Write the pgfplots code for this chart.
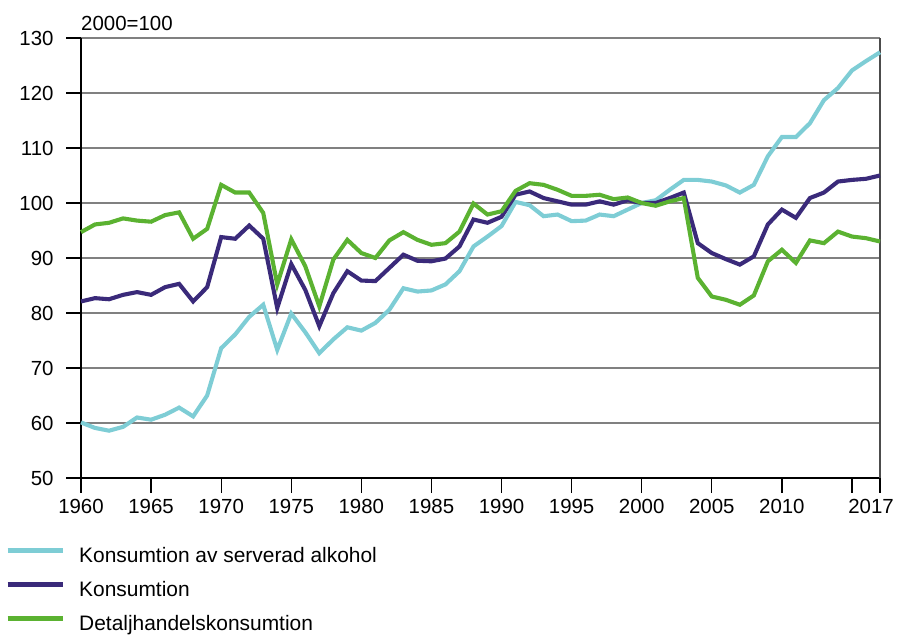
\documentclass[border=0pt]{standalone}
\usepackage{pgfplots}
\pgfplotsset{compat=1.18}
\usepackage{pgfplotstable}
\usepackage{fontspec}
\setmainfont{Liberation Sans}
\definecolor{cserv}{HTML}{7ECDD5}
\definecolor{ckons}{HTML}{3A2A7A}
\definecolor{cdet}{HTML}{5BB231}
\pgfplotstableread{
year serv kons det
1960 60.1 82.1 94.7
1961 59.1 82.7 96.1
1962 58.6 82.5 96.4
1963 59.3 83.3 97.2
1964 61.0 83.8 96.8
1965 60.6 83.3 96.6
1966 61.5 84.7 97.8
1967 62.8 85.3 98.3
1968 61.2 82.1 93.5
1969 65.0 84.7 95.3
1970 73.6 93.8 103.3
1971 76.1 93.5 101.9
1972 79.3 95.9 101.9
1973 81.5 93.5 98.2
1974 73.3 80.9 85.2
1975 79.9 88.9 93.4
1976 76.5 84.2 88.5
1977 72.7 77.6 81.2
1978 75.2 83.6 89.7
1979 77.4 87.6 93.3
1980 76.8 85.9 90.9
1981 78.2 85.8 90.0
1982 80.6 88.2 93.2
1983 84.5 90.6 94.7
1984 83.9 89.5 93.3
1985 84.1 89.4 92.4
1986 85.2 89.9 92.7
1987 87.6 92.1 94.8
1988 92.1 97.0 99.9
1989 93.9 96.4 97.9
1990 95.8 97.5 98.5
1991 100.2 101.5 102.2
1992 99.6 102.1 103.6
1993 97.6 100.9 103.3
1994 97.9 100.3 102.4
1995 96.7 99.7 101.3
1996 96.8 99.7 101.3
1997 97.9 100.3 101.5
1998 97.6 99.7 100.7
1999 98.8 100.5 101.0
2000 100.0 100.0 100.0
2001 100.5 100.0 99.5
2002 102.4 100.9 100.3
2003 104.2 101.9 100.9
2004 104.2 92.7 86.4
2005 103.9 90.9 83.0
2006 103.2 89.8 82.4
2007 101.9 88.8 81.5
2008 103.3 90.3 83.2
2009 108.5 96.1 89.4
2010 112.0 98.8 91.5
2011 112.0 97.3 89.1
2012 114.5 100.9 93.2
2013 118.7 101.9 92.7
2014 120.9 103.9 94.8
2015 124.1 104.2 93.9
2016 125.8 104.4 93.6
2017 127.4 105.0 93.0
}\datatable
\begin{document}
\begin{tikzpicture}
\begin{axis}[
  name=ax,
  scale only axis,
  width=799bp, height=440bp,
  xmin=1960, xmax=2017, ymin=50, ymax=130,
  axis lines=left,
  axis line style={black, line width=1.3bp, -},
  tick align=outside,
  major tick length=15bp,
  tick style={black, line width=1.3bp},
  xtick={1960,1965,...,2015},
  xticklabels={1960,1965,1970,1975,1980,1985,1990,1995,2000,2005,2010,},
  extra x ticks={2017},
  extra x tick labels={2017},
  extra x tick style={grid=major, major grid style={draw=black!70, line width=1.3bp},
    xticklabel style={xshift=-9bp}},
  ytick={50,60,...,130},
  ymajorgrids,
  major grid style={draw=black!50, line width=1.2bp},
  /pgf/number format/assume math mode=true,
  /pgf/number format/1000 sep={},
  ticklabel style={font=\fontsize{20.5}{24}\selectfont},
  yticklabel style={xshift=-9bp},
  xticklabel style={yshift=-3bp},
  clip=false,
  legend cell align=left,
  legend style={at={(rel axis cs:0,0)}, anchor=north west, xshift=-76bp, yshift=-69bp,
    draw=none, fill=none, inner sep=0pt,
    font=\fontsize{21}{24}\selectfont,
    row sep=15bp,
    nodes={inner sep=0pt, text height=15bp, text depth=4bp},
    /tikz/every odd column/.append style={column sep=14bp}},
  legend image code/.code={\draw[#1, line width=5bp] (0bp,6bp) -- (55bp,6bp);},
]
\addplot[cserv, line width=4.1bp] table[x=year, y=serv] {\datatable};
\addlegendentry{Konsumtion av serverad alkohol}
\addplot[ckons, line width=4.1bp] table[x=year, y=kons] {\datatable};
\addlegendentry{Konsumtion}
\addplot[cdet, line width=4.1bp] table[x=year, y=det] {\datatable};
\addlegendentry{Detaljhandelskonsumtion}
\end{axis}
\node[anchor=south west, font=\fontsize{20.5}{24}\selectfont, inner sep=0pt] at ([yshift=7bp]ax.north west) {2000=100};
\pgfresetboundingbox
\path[use as bounding box] ([xshift=-81bp,yshift=-161bp]ax.south west) rectangle ([xshift=19bp,yshift=38bp]ax.north east);
\end{tikzpicture}
\end{document}
